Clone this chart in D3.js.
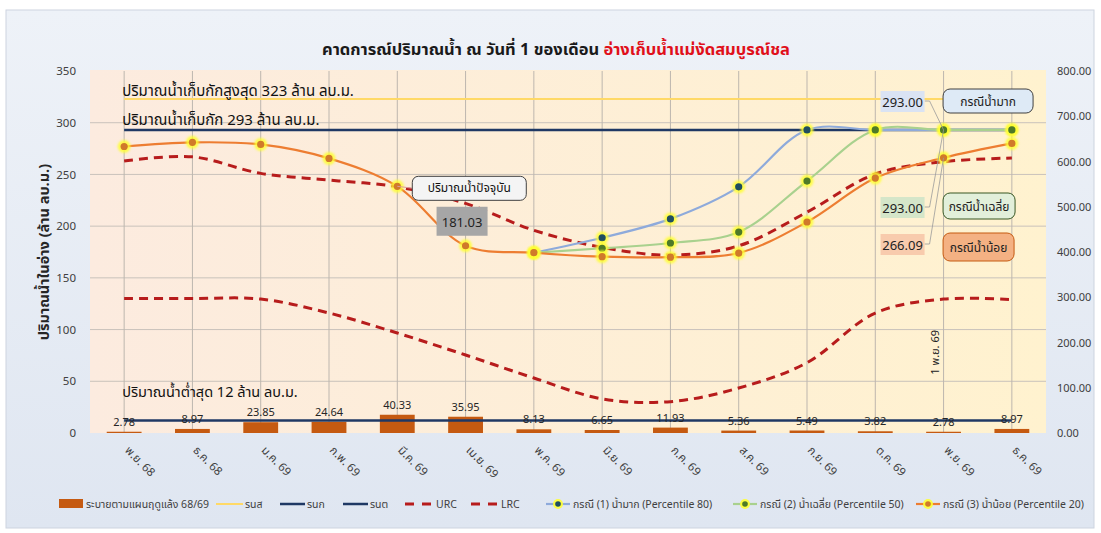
<!DOCTYPE html>
<html><head><meta charset="utf-8">
<script src="https://cdn.jsdelivr.net/npm/d3@7"></script>
<style>
html,body{margin:0;padding:0;background:#fff;}
svg text{font-family:'Noto Sans Thai','Noto Sans','Leelawadee UI',Tahoma,sans-serif;}
</style></head>
<body><svg id="c" width="1101" height="533"></svg>
<script>
// ---------------- data ----------------
const months = ["พ.ย. 68","ธ.ค. 68","ม.ค. 69","ก.พ. 69","มี.ค. 69","เม.ย. 69","พ.ค. 69","มิ.ย. 69","ก.ค. 69","ส.ค. 69","ก.ย. 69","ต.ค. 69","พ.ย. 69","ธ.ค. 69"];
const drainage = [2.78, 8.97, 23.85, 24.64, 40.33, 35.95, 8.13, 6.65, 11.93, 5.36, 5.49, 3.82, 2.78, 8.97];
const case1Wet = [null,null,null,null,null,null,174.3,188.8,207,238,293,293,293,293];
const case2Avg = [null,null,null,null,null,null,174.3,178.6,183.7,194.3,243.6,293,293,293];
const case3Dry = [277,281,279,265.5,238.5,181.03,174.3,170.5,170,174,204,246.5,266.09,280];
const urc = [263,267,251,244.6,238,222,196,179.5,172,181,213.5,250.4,262.3,265.9];
const lrc = [130,130,129.5,116,96.7,75.4,53.2,33,30.3,43.5,68,116,129.5,129];
const maxStorage = 323, normalStorage = 293, minStorage = 12;
const leftTicks = [0,50,100,150,200,250,300,350];
const rightTicks = [0,100,200,300,400,500,600,700,800];

// ---------------- layout ----------------
const svg = d3.select("#c");
const W = 1101, H = 533;
const P = {l:90, r:1046, t:71, b:433};
const defs = svg.append("defs");
const bgG = defs.append("linearGradient").attr("id","bg").attr("x1",0).attr("y1",0).attr("x2",0).attr("y2",1);
bgG.append("stop").attr("offset","0%").attr("stop-color","#eef2f8");
bgG.append("stop").attr("offset","100%").attr("stop-color","#dfe6f1");
const plG = defs.append("linearGradient").attr("id","pl").attr("x1",0).attr("y1",0).attr("x2",1).attr("y2",0);
plG.append("stop").attr("offset","0%").attr("stop-color","#fcebdf");
plG.append("stop").attr("offset","100%").attr("stop-color","#fff2cf");
const glow = defs.append("filter").attr("id","glow").attr("x","-50%").attr("y","-50%").attr("width","200%").attr("height","200%");
glow.append("feGaussianBlur").attr("stdDeviation",0.8);

svg.append("rect").attr("width",W).attr("height",H).attr("fill","#ffffff");
svg.append("rect").attr("x",6).attr("y",10).attr("width",1088).attr("height",518)
  .attr("fill","url(#bg)").attr("stroke","#cdd4df");
svg.append("rect").attr("x",P.l).attr("y",P.t-1).attr("width",P.r-P.l).attr("height",P.b-P.t+1)
  .attr("fill","url(#pl)");

const x = d3.scaleBand().domain(months).range([P.l,P.r]).paddingInner(0).paddingOuter(0);
const cx = m => x(m) + x.bandwidth()/2;
const y = d3.scaleLinear().domain([0,350]).range([P.b,P.t]);
const y2 = d3.scaleLinear().domain([0,800]).range([P.b,P.t]);

// grid
svg.append("g").selectAll("line").data(leftTicks.filter(d=>d>0 && d<350)).join("line")
  .attr("x1",P.l).attr("x2",P.r).attr("y1",d=>y(d)).attr("y2",d=>y(d))
  .attr("stroke","#c9c2bb").attr("stroke-width",1);
svg.append("g").selectAll("line").data(months).join("line")
  .attr("x1",d=>cx(d)).attr("x2",d=>cx(d)).attr("y1",P.t).attr("y2",P.b)
  .attr("stroke","#bdb6ae").attr("stroke-width",1);

// axes
const axL = svg.append("g").attr("transform",`translate(${P.l-4},0)`)
  .call(d3.axisLeft(y).tickValues(leftTicks).tickSize(0).tickPadding(10));
axL.select(".domain").remove();
axL.selectAll("text").attr("font-size",11.5).attr("fill","#404040");
const axR = svg.append("g").attr("transform",`translate(${P.r},0)`)
  .call(d3.axisRight(y2).tickValues(rightTicks).tickSize(0).tickPadding(11).tickFormat(d3.format(".2f")));
axR.select(".domain").remove();
axR.selectAll("text").attr("font-size",11).attr("fill","#404040");
const axB = svg.append("g").attr("transform",`translate(0,${P.b})`)
  .call(d3.axisBottom(x).tickSize(0).tickPadding(0));
axB.select(".domain").remove();
axB.selectAll("text").attr("font-size",11.5).attr("fill","#404040")
  .attr("text-anchor","start").attr("dy",0)
  .attr("transform","translate(0,18) rotate(45)");

// y title
svg.append("text").attr("transform",`translate(49,${(P.t+P.b)/2}) rotate(-90)`)
  .attr("text-anchor","middle").attr("font-size",14.5).attr("font-weight","bold").attr("fill","#262626")
  .text("ปริมาณน้ำในอ่าง (ล้าน ลบ.ม.)");

// title
const t = svg.append("text").attr("x",556).attr("y",55).attr("text-anchor","middle")
  .attr("font-size",16.5).attr("font-weight","bold");
t.append("tspan").attr("fill","#1a1a1a").text("คาดการณ์ปริมาณน้ำ ณ วันที่ 1 ของเดือน  ");
t.append("tspan").attr("fill","#e0101a").text("อ่างเก็บน้ำแม่งัดสมบูรณ์ชล");

// bars
const bw = x.bandwidth()*0.51;
svg.append("g").selectAll("rect").data(months).join("rect")
  .attr("x",d=>cx(d)-bw/2).attr("width",bw)
  .attr("y",(d,i)=>y2(drainage[i])).attr("height",(d,i)=>P.b-y2(drainage[i]))
  .attr("fill","#c55a11");

// reference lines
const x0 = cx(months[0]), x1 = cx(months[months.length-1]);
svg.append("line").attr("x1",x0).attr("x2",x1).attr("y1",y(maxStorage)).attr("y2",y(maxStorage))
  .attr("stroke","#ffd966").attr("stroke-width",2);
svg.append("line").attr("x1",x0).attr("x2",x1).attr("y1",y(normalStorage)).attr("y2",y(normalStorage))
  .attr("stroke","#1f3864").attr("stroke-width",2.5);
svg.append("line").attr("x1",x0).attr("x2",x1).attr("y1",y(minStorage)).attr("y2",y(minStorage))
  .attr("stroke","#1f3864").attr("stroke-width",2.5);

// bar labels
svg.append("g").selectAll("text").data(months).join("text")
  .attr("x",d=>cx(d)).attr("y",(d,i)=>y2(drainage[i])-6)
  .attr("text-anchor","middle").attr("font-size",11).attr("fill","#262626")
  .text((d,i)=>drainage[i].toFixed(2));

// rule curves
const line = d3.line().defined(d=>d[1]!=null).x(d=>cx(d[0])).y(d=>y(d[1])).curve(d3.curveCatmullRom.alpha(0.5));
const pts = arr => months.map((m,i)=>[m,arr[i]]);
[urc,lrc].forEach(a=>{
  svg.append("path").attr("d",line(pts(a))).attr("fill","none")
    .attr("stroke","#b71c1c").attr("stroke-width",3).attr("stroke-dasharray","9,6");
});

// scenario lines
const scen = [
  {data:case1Wet, stroke:"#8eaadb", dot:"#1f4e5f"},
  {data:case2Avg, stroke:"#a9d18e", dot:"#4e7a27"},
  {data:case3Dry, stroke:"#ed7d31", dot:"#d07a2a"}
];
scen.forEach(s=>{
  svg.append("path").attr("d",line(pts(s.data))).attr("fill","none")
    .attr("stroke",s.stroke).attr("stroke-width",2.2);
});
scen.forEach(s=>{
  const g = svg.append("g");
  const p = pts(s.data).filter(d=>d[1]!=null);
  g.selectAll(".o").data(p).join("circle").attr("cx",d=>cx(d[0])).attr("cy",d=>y(d[1]))
    .attr("r",6.5).attr("fill","#ffff33").attr("opacity",0.85).attr("filter","url(#glow)");
  g.selectAll(".i").data(p).join("circle").attr("cx",d=>cx(d[0])).attr("cy",d=>y(d[1]))
    .attr("r",3.6).attr("fill",s.dot);
});

// text annotations
svg.append("text").attr("x",x0-2).attr("y",y(maxStorage)-3).attr("font-size",15).attr("fill","#111")
  .text("ปริมาณน้ำเก็บกักสูงสุด "+maxStorage+" ล้าน ลบ.ม.");
svg.append("text").attr("x",x0-2).attr("y",y(normalStorage)-5).attr("font-size",15).attr("fill","#111")
  .text("ปริมาณน้ำเก็บกัก "+normalStorage+" ล้าน ลบ.ม.");
svg.append("text").attr("x",x0-2).attr("y",y(minStorage)-24).attr("font-size",14.5).attr("fill","#111")
  .text("ปริมาณน้ำต่ำสุด "+minStorage+" ล้าน ลบ.ม.");

// current callout
const ci = 4, cur = 5;
const cpx = cx(months[ci]), cpy = y(case3Dry[ci]);
svg.append("line").attr("x1",cpx).attr("y1",cpy).attr("x2",cpx+16).attr("y2",cpy+2).attr("stroke","#d99").attr("stroke-width",1);
svg.append("rect").attr("x",cpx+15).attr("y",cpy-10).attr("width",114).attr("height",24).attr("rx",6)
  .attr("fill","#f4f4f4").attr("stroke","#404040");
svg.append("text").attr("x",cpx+72).attr("y",cpy+6).attr("text-anchor","middle").attr("font-size",12).attr("fill","#111")
  .text("ปริมาณน้ำปัจจุบัน");
const lx = cx(months[cur]), ly = y(case3Dry[cur]);
svg.append("rect").attr("x",lx-29).attr("y",ly-39).attr("width",51).attr("height",29).attr("fill","#a6a6a6");
svg.append("text").attr("x",lx-3.5).attr("y",ly-19).attr("text-anchor","middle").attr("font-size",13).attr("fill","#222")
  .text(case3Dry[cur].toFixed(2));

// scenario end labels (Nov 69)
const ni = 12, nx = cx(months[ni]);
const boxes = [
  {v:case1Wet[ni], by:91, fill:"#dae3f3", name:"กรณีน้ำมาก", nfill:"#deeaf6", nstroke:"#404040", ny:89, nw:90, nh:24},
  {v:case2Avg[ni], by:197, fill:"#d5e6c9", name:"กรณีน้ำเฉลี่ย", nfill:"#e2efda", nstroke:"#385723", ny:193, nw:72, nh:26},
  {v:case3Dry[ni], by:234, fill:"#f8cbad", name:"กรณีน้ำน้อย", nfill:"#f4b183", nstroke:"#c55a11", ny:233, nw:71, nh:28}
];
boxes.forEach(b=>{
  svg.append("polyline").attr("points",`${nx-19},${b.by+10} ${nx-14},${b.by+10} ${nx},${y(b.v)}`)
    .attr("fill","none").attr("stroke","#9a9a9a").attr("stroke-width",0.8);
  svg.append("rect").attr("x",nx-63).attr("y",b.by).attr("width",44).attr("height",21).attr("fill",b.fill);
  svg.append("text").attr("x",nx-41).attr("y",b.by+15.5).attr("text-anchor","middle").attr("font-size",13).attr("fill","#222")
    .text(b.v.toFixed(2));
  svg.append("rect").attr("x",nx-0.5).attr("y",b.ny).attr("width",b.nw).attr("height",b.nh).attr("rx",7)
    .attr("fill",b.nfill).attr("stroke",b.nstroke).attr("stroke-width",1);
  svg.append("text").attr("x",nx-0.5+b.nw/2).attr("y",b.ny+b.nh/2+5).attr("text-anchor","middle")
    .attr("font-size",12).attr("fill","#222").text(b.name);
});
svg.append("text").attr("transform",`translate(${nx-5},${y(78)}) rotate(-90)`).attr("text-anchor","middle")
  .attr("font-size",11).attr("fill","#222").text("1 พ.ย. 69");

// legend
const lg = svg.append("g").attr("font-size",10.5).attr("fill","#404040");
const LY = 504;
lg.append("rect").attr("x",59).attr("y",LY-5).attr("width",24).attr("height",9).attr("fill","#c55a11");
lg.append("text").attr("x",86).attr("y",LY+4).text("ระบายตามแผนฤดูแล้ง 68/69");
const lineItems = [
  {x:216, w:27, stroke:"#ffd966", sw:2, dash:null, label:"รนส"},
  {x:280, w:25, stroke:"#1f3864", sw:2.5, dash:null, label:"รนก"},
  {x:343, w:25, stroke:"#1f3864", sw:2.5, dash:null, label:"รนต"},
  {x:405, w:29, stroke:"#b71c1c", sw:3, dash:"9,8", label:"URC"},
  {x:471, w:28, stroke:"#b71c1c", sw:3, dash:"9,8", label:"LRC"}
];
lineItems.forEach(it=>{
  lg.append("line").attr("x1",it.x).attr("x2",it.x+it.w).attr("y1",LY).attr("y2",LY)
    .attr("stroke",it.stroke).attr("stroke-width",it.sw).attr("stroke-dasharray",it.dash);
  lg.append("text").attr("x",it.x+it.w+2).attr("y",LY+4).text(it.label);
});
const scenLeg = [
  {x:546, label:"กรณี (1) น้ำมาก  (Percentile 80)", s:scen[0]},
  {x:733, label:"กรณี (2) น้ำเฉลี่ย  (Percentile 50)", s:scen[1]},
  {x:916, label:"กรณี (3) น้ำน้อย (Percentile 20)", s:scen[2]}
];
scenLeg.forEach(it=>{
  lg.append("line").attr("x1",it.x).attr("x2",it.x+24).attr("y1",LY).attr("y2",LY)
    .attr("stroke",it.s.stroke).attr("stroke-width",2.2);
  lg.append("circle").attr("cx",it.x+12).attr("cy",LY).attr("r",5).attr("fill","#ffff33").attr("opacity",0.9);
  lg.append("circle").attr("cx",it.x+12).attr("cy",LY).attr("r",2.8).attr("fill",it.s.dot);
  lg.append("text").attr("x",it.x+27).attr("y",LY+4).text(it.label);
});
</script></body></html>
